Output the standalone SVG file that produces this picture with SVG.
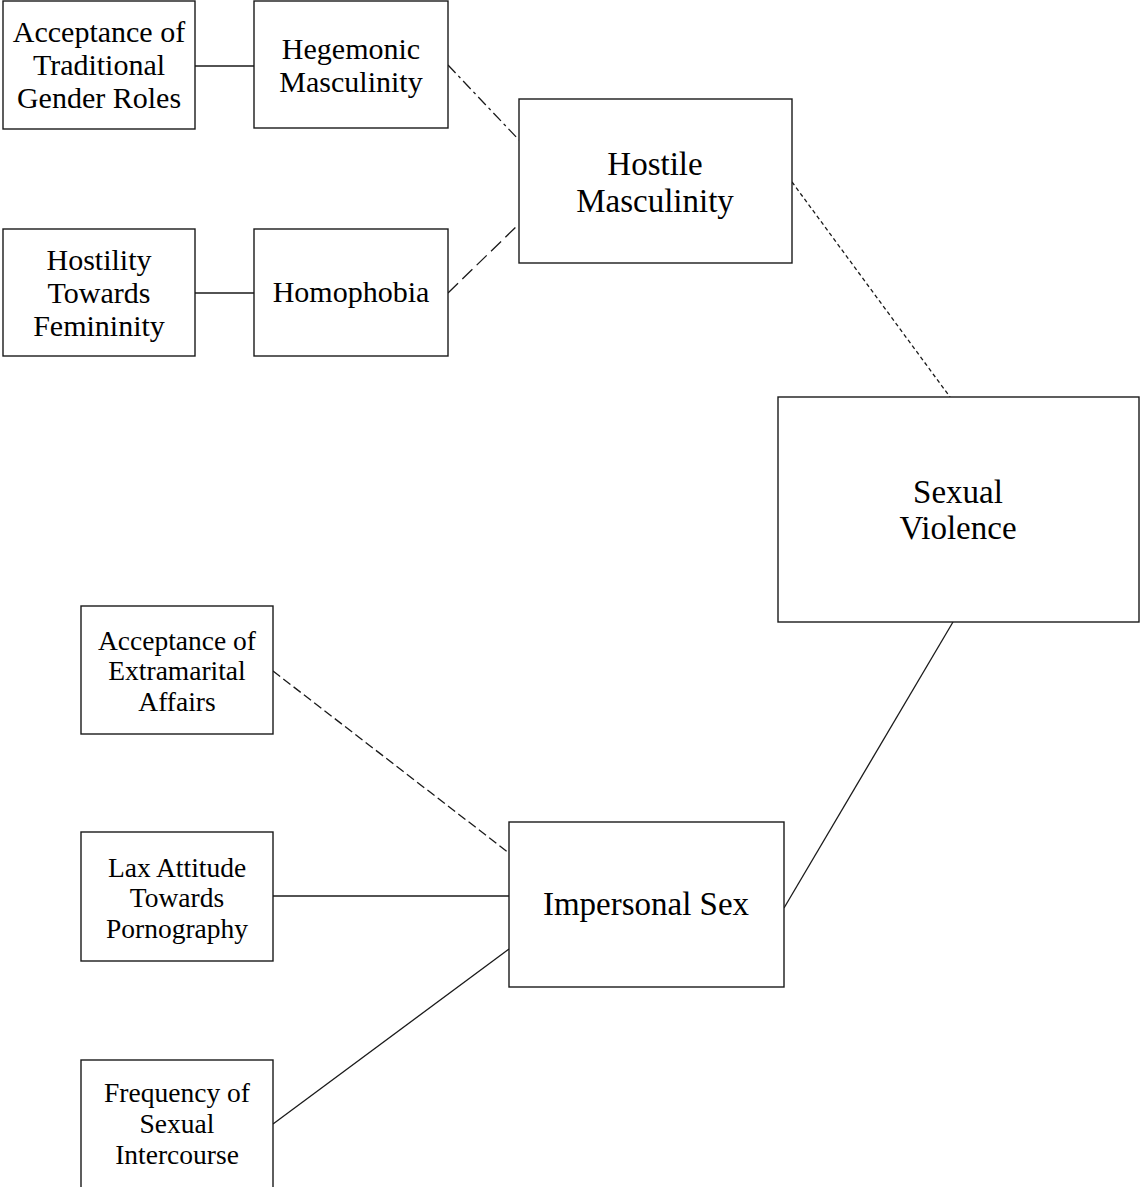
<svg xmlns="http://www.w3.org/2000/svg" width="1140" height="1187" viewBox="0 0 1140 1187">
<style>
rect.box{fill:#fff;stroke:#1a1a1a;stroke-width:1.4}
text{font-family:"Liberation Serif","Times New Roman",serif;fill:#000;text-anchor:middle}
.s{font-size:30px}
.m{font-size:33px}
.b{font-size:27.5px}
.c line{stroke:#1a1a1a;stroke-width:1.3;fill:none}
</style>
<rect width="1140" height="1187" fill="#fff"/>
<g class="c" id="connectors">
<line x1="195" y1="66" x2="254" y2="66"/>
<line x1="195" y1="293" x2="254" y2="293"/>
<line x1="448" y1="65" x2="519" y2="140" stroke-dasharray="11,4,3,4"/>
<line x1="448" y1="293" x2="519" y2="224" stroke-dasharray="14,6"/>
<line x1="792" y1="182" x2="950" y2="397" stroke-dasharray="4,3"/>
<line x1="953" y1="622" x2="784" y2="908"/>
<line x1="273" y1="671" x2="509" y2="853" stroke-dasharray="9,4"/>
<line x1="273" y1="896" x2="509" y2="896"/>
<line x1="273" y1="1124" x2="509" y2="949"/>
</g>
<g id="n_tradroles">
<rect class="box" x="3" y="1" width="192" height="128"/>
<text class="s" x="99" y="42">Acceptance of</text>
<text class="s" x="99" y="75">Traditional</text>
<text class="s" x="99" y="108">Gender Roles</text>
</g>
<g id="n_hegemonic">
<rect class="box" x="254" y="1" width="194" height="127"/>
<text class="s" x="351" y="59">Hegemonic</text>
<text class="s" x="351" y="92">Masculinity</text>
</g>
<g id="n_hostfem">
<rect class="box" x="3" y="229" width="192" height="127"/>
<text class="s" x="99" y="270">Hostility</text>
<text class="s" x="99" y="303">Towards</text>
<text class="s" x="99" y="336">Femininity</text>
</g>
<g id="n_homophobia">
<rect class="box" x="254" y="229" width="194" height="127"/>
<text class="s" x="351" y="302">Homophobia</text>
</g>
<g id="n_hostilemasc">
<rect class="box" x="519" y="99" width="273" height="164"/>
<text class="m" x="655" y="175">Hostile</text>
<text class="m" x="655" y="212">Masculinity</text>
</g>
<g id="n_sexviolence">
<rect class="box" x="778" y="397" width="361" height="225"/>
<text class="m" x="958" y="503">Sexual</text>
<text class="m" x="958" y="539">Violence</text>
</g>
<g id="n_extramarital">
<rect class="box" x="81" y="606" width="192" height="128"/>
<text class="b" x="177" y="650">Acceptance of</text>
<text class="b" x="177" y="680">Extramarital</text>
<text class="b" x="177" y="711">Affairs</text>
</g>
<g id="n_lax">
<rect class="box" x="81" y="832" width="192" height="129"/>
<text class="b" x="177" y="877">Lax Attitude</text>
<text class="b" x="177" y="907">Towards</text>
<text class="b" x="177" y="938">Pornography</text>
</g>
<g id="n_frequency">
<rect class="box" x="81" y="1060" width="192" height="140"/>
<text class="b" x="177" y="1102">Frequency of</text>
<text class="b" x="177" y="1133">Sexual</text>
<text class="b" x="177" y="1164">Intercourse</text>
</g>
<g id="n_impersonal">
<rect class="box" x="509" y="822" width="275" height="165"/>
<text class="m" x="646" y="915">Impersonal Sex</text>
</g>
</svg>
